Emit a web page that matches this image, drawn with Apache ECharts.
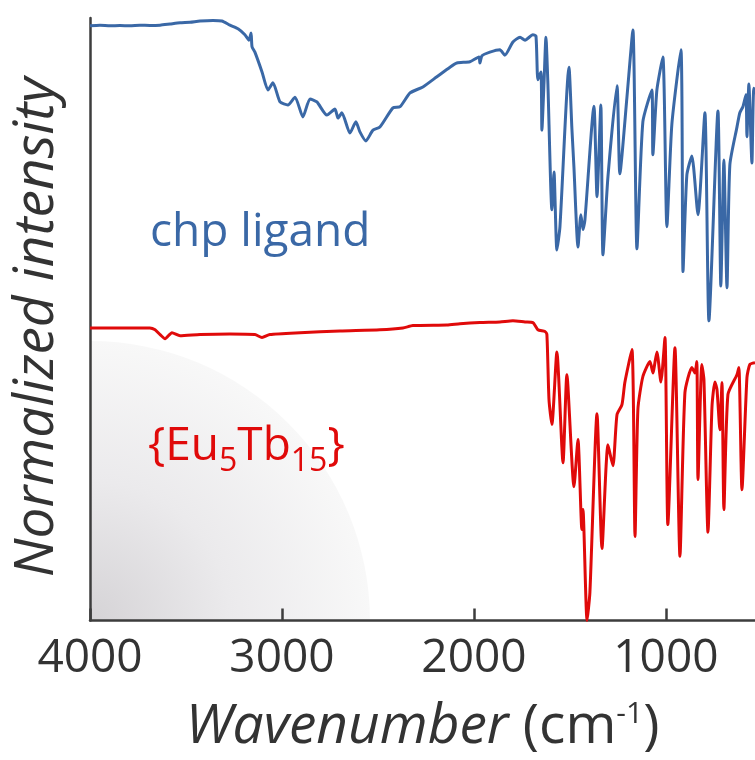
<!DOCTYPE html>
<html>
<head>
<meta charset="utf-8">
<script src="https://cdn.jsdelivr.net/npm/echarts@6/dist/echarts.min.js"></script>
<style>html,body{margin:0;padding:0;background:#fff}#c{width:755px;height:760px}</style>
</head>
<body>
<div id="c"></div>
<script>
// Wavenumber (cm-1), normalized intensity (arbitrary units)
const ligandWn = [4000,3948,3896,3844,3792,3740,3688,3635,3583,3531,3479,3427,3359,3313,3271,3229,3193,3172,3161,3156,3141,3104,3073,3047,3010,2969,2932,2891,2854,2818,2766,2724,2708,2688,2646,2615,2594,2563,2526,2490,2422,2385,2333,2266,2193,2125,2089,2021,1974,1969,1958,1917,1865,1839,1797,1760,1734,1693,1677,1667,1651,1646,1635,1625,1615,1594,1583,1568,1552,1505,1490,1479,1458,1443,1432,1422,1375,1359,1339,1328,1302,1255,1240,1203,1172,1151,1120,1073,1068,1047,1016,995,969,922,911,891,865,833,797,776,729,714,698,682,667,630,615,599,583,578,568,552,542,526];
const ligandInt = [99.2,99.3,99.2,99.25,99.2,99.3,99.25,99.3,99.5,99.7,99.8,100,100.1,100,99.3,98.7,97.7,96.8,98,95.7,94.8,91.5,88.5,89.7,86.5,86,87.3,84,87,86.5,84.3,85.3,83.8,84.7,81.3,83.2,81.5,80,81.8,82.3,85.5,85.7,88,89,90.7,92.3,93,93.2,94,93,94.2,94.8,95.2,94.3,96.5,97.3,96.8,97.7,97.5,90.2,91.5,81.8,89.7,97.3,89.7,68.5,74.8,61.8,65.7,92.3,82.2,75.5,62.3,67.7,65.2,66.8,85.8,70.7,86,61,74,89.2,74.5,87.3,98.5,62,83.2,88.5,77.7,88.5,94,65.7,82.8,95.2,58.2,74.3,77.5,67.7,84.7,50,85,55.8,76.8,55.5,76,82.3,84.7,85.7,87.7,80.7,89.5,76.3,88.8,87.7];

const complexWn = [4000,3844,3688,3661,3635,3609,3573,3531,3427,3271,3141,3104,3063,2906,2698,2490,2370,2318,2141,2073,1969,1865,1797,1734,1693,1667,1630,1620,1609,1594,1568,1536,1516,1479,1458,1438,1432,1411,1396,1359,1333,1302,1276,1255,1229,1214,1177,1161,1146,1120,1083,1068,1047,1026,1005,990,953,927,901,865,849,839,833,813,802,781,760,745,734,719,708,698,677,630,620,604,578,563,536];
const complexInt = [48.8,48.8,48.8,48.5,47.7,47,48,47.5,47.7,47.8,47.7,47.2,47.7,48,48.3,48.5,48.8,49.2,49.3,49.5,49.7,49.8,50,49.8,49.7,48.5,48.2,47.7,36.8,32.7,44.8,26.3,41,22.3,30.2,15.2,18.5,0,4.7,34.5,12,29.3,25.8,34.3,36,39.7,45.2,14,35.2,40.7,43.2,41.3,44.8,39.8,47.2,16,45.5,10.7,38,42.2,41.3,43.2,23.5,42.7,40.2,14.7,35.7,39.8,38.5,31.8,39.7,18.5,37.7,41,42.2,21.8,40.5,42.7,43];

const xTicks = [4000, 3000, 2000, 1000];
const seriesNames = ['chp ligand', '{Eu5Tb15}'];

const FONT = '"Open Sans", "Noto Sans", sans-serif';
const AXIS = '#3d3d3d';
const BLUE = '#3a68a6';
const RED = '#e00a0a';

const zip = (a, b) => a.map((v, i) => [v, b[i]]);

const chart = echarts.init(document.getElementById('c'), null, {renderer: 'canvas'});
chart.setOption({
  backgroundColor: '#ffffff',
  animation: false,
  graphic: [
    {
      type: 'sector', z: 0, silent: true,
      shape: {cx: 90, cy: 621, r: 280, r0: 0, startAngle: -Math.PI / 2, endAngle: 0, clockwise: true},
      style: {
        fill: {type: 'radial', x: 0, y: 1, r: 1, colorStops: [
          {offset: 0, color: '#d5d3d6'}, {offset: 0.5, color: '#ebeaec'}, {offset: 1, color: '#f8f8f8'}
        ]}
      }
    },
    {
      type: 'text', left: 150, top: 210, z: 10,
      style: {text: seriesNames[0], fill: BLUE, font: '46px ' + FONT}
    },
    {
      type: 'text', left: 148, top: 424, z: 10,
      style: {
        text: '{a|{Eu}{b|5}{a|Tb}{b|15}}',
        font: '46px ' + FONT, fill: RED,
        rich: {
          a: {fontSize: 46, fontFamily: FONT, fill: RED, color: RED},
          b: {fontSize: 32, fontFamily: FONT, fill: RED, color: RED, padding: [30, 0, 0, 0]}
        }
      }
    }
  ],
  grid: {left: 90, right: 0, top: 18, bottom: 139, containLabel: false},
  xAxis: {
    type: 'value', min: 536, max: 4000, inverse: true,
    name: '{i|Wavenumber}{n| (cm}{s|-1}{n|)}',
    nameLocation: 'middle', nameGap: 79,
    nameTextStyle: {
      rich: {
        i: {fontSize: 55, fontStyle: 'italic', fontFamily: FONT, color: '#333'},
        n: {fontSize: 55, fontFamily: FONT, color: '#333'},
        s: {fontSize: 30, fontFamily: FONT, color: '#333', padding: [0, 0, 26, 0]}
      }
    },
    axisLine: {show: true, onZero: false, lineStyle: {color: AXIS, width: 2.5}},
    axisTick: {show: true, inside: true, length: 12, customValues: xTicks, lineStyle: {color: AXIS, width: 2.5}},
    axisLabel: {show: true, customValues: xTicks, margin: 15, fontSize: 46, fontFamily: FONT, color: '#333',
      formatter: v => String(v)},
    splitLine: {show: false}
  },
  yAxis: {
    type: 'value', min: 0, max: 100.5,
    name: 'Normalized intensity',
    nameLocation: 'middle', nameGap: 25,
    nameTextStyle: {fontSize: 55, fontStyle: 'italic', fontFamily: FONT, color: '#333', padding: [0, 16, 0, 0]},
    axisLine: {show: true, onZero: false, lineStyle: {color: AXIS, width: 2.5}},
    axisTick: {show: false},
    axisLabel: {show: false},
    splitLine: {show: false}
  },
  series: [
    {name: seriesNames[0], type: 'line', data: zip(ligandWn, ligandInt), showSymbol: false, smooth: 0.2,
     lineStyle: {color: BLUE, width: 3}, z: 3, clip: true},
    {name: seriesNames[1], type: 'line', data: zip(complexWn, complexInt), showSymbol: false, smooth: 0.2,
     lineStyle: {color: RED, width: 3}, z: 3, clip: true}
  ]
});
</script>
</body>
</html>
